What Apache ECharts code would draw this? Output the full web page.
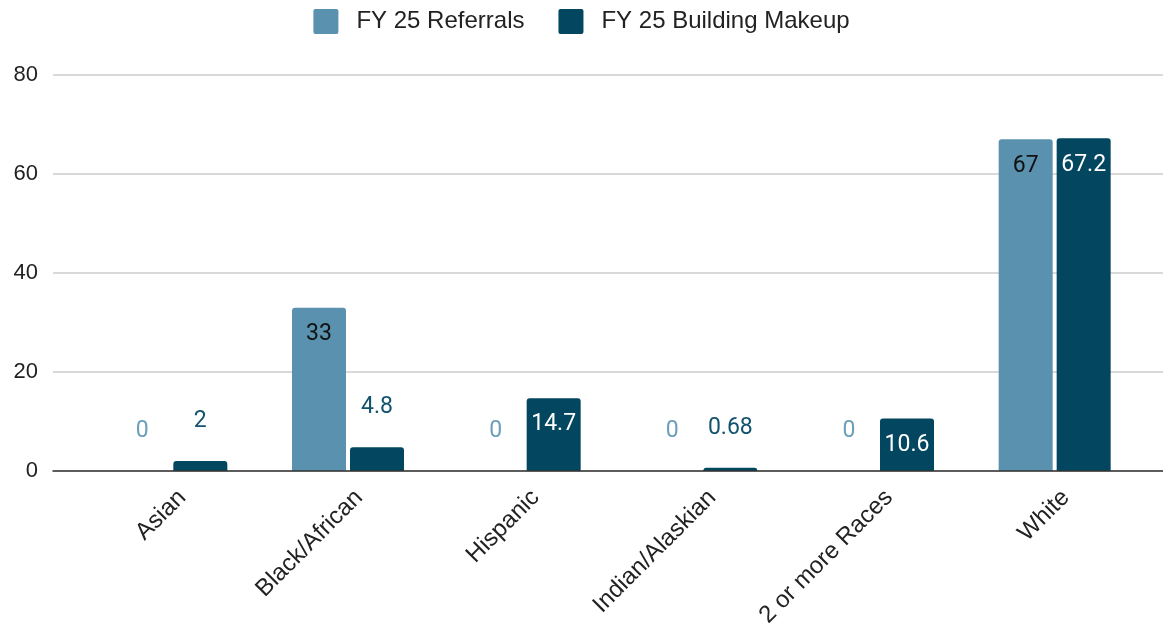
<!DOCTYPE html>
<html>
<head>
<meta charset="utf-8">
<script src="https://cdn.jsdelivr.net/npm/echarts@6/dist/echarts.min.js"></script>
<style>
  html, body { margin: 0; padding: 0; background: #fff; }
  #RaceChart { width: 1163px; height: 630px; }
</style>
</head>
<body>
<div id="RaceChart"></div>
<script>
// values
const categories = ['Asian', 'Black/African', 'Hispanic', 'Indian/Alaskian', '2 or more Races', 'White']
const referrals = [0, 33, 0, 0, 0, 67]
const buildingMakeup = [2, 4.8, 14.7, 0.68, 10.6, 67.2]
const yTicks = [0, 20, 40, 60, 80]

const lightBlue = '#5a91ae'
const darkBlue = '#02465f'

// tall bars get their number inside the top, short ones above in the bar colour
function withLabels (values, barColor, insideColor) {
  return values.map(function (v) {
    if (v >= 10) {
      return { value: v, label: { position: 'insideTop', distance: 15, color: insideColor } }
    }
    return { value: v, label: { position: 'top', distance: 28, color: barColor } }
  })
}

const chart = echarts.init(document.getElementById('RaceChart'))
chart.setOption({
  animation: false,
  backgroundColor: '#fff',
  legend: {
    top: 4,
    left: 'center',
    itemWidth: 25,
    itemHeight: 25,
    itemGap: 34,
    icon: 'path://M2,0 L23,0 Q25,0 25,2 L25,23 Q25,25 23,25 L2,25 Q0,25 0,23 L0,2 Q0,0 2,0 Z',
    data: ['FY 25 Referrals', 'FY 25 Building Makeup'],
    textStyle: {
      fontFamily: 'Liberation Sans',
      fontSize: 24,
      color: '#222',
      padding: [0, 0, 0, 13]
    }
  },
  grid: [
    // bars
    { left: 83, right: 20, top: 75, bottom: 159 },
    // gridlines, y labels and base line across the full width
    { left: 53, right: 0, top: 75, bottom: 159 },
    // category labels, nudged right like the original
    { left: 94, right: 9, top: 75, bottom: 159 }
  ],
  xAxis: [
    {
      type: 'category',
      gridIndex: 0,
      data: categories,
      show: false
    },
    {
      type: 'value',
      gridIndex: 1,
      min: 0,
      max: 1,
      axisLabel: { show: false },
      axisTick: { show: false },
      splitLine: { show: false },
      axisLine: { show: true, lineStyle: { color: '#333', width: 1.5 } },
      z: 5
    },
    {
      type: 'category',
      gridIndex: 2,
      data: categories,
      axisLine: { show: false },
      axisTick: { show: false },
      axisLabel: {
        rotate: 45,
        margin: 32,
        interval: 0,
        fontFamily: 'Liberation Sans',
        fontSize: 24,
        color: '#222'
      }
    }
  ],
  yAxis: [
    {
      type: 'value',
      gridIndex: 0,
      min: yTicks[0],
      max: yTicks[yTicks.length - 1],
      show: false
    },
    {
      type: 'value',
      gridIndex: 1,
      min: yTicks[0],
      max: yTicks[yTicks.length - 1],
      interval: 20,
      axisLine: { show: false },
      axisTick: { show: false },
      axisLabel: {
        margin: 15,
        fontFamily: 'Liberation Sans',
        fontSize: 22,
        color: '#222'
      },
      splitLine: { lineStyle: { color: '#cccccc', width: 1.5 } }
    },
    {
      type: 'value',
      gridIndex: 2,
      min: yTicks[0],
      max: yTicks[yTicks.length - 1],
      show: false
    }
  ],
  series: [
    {
      name: 'FY 25 Referrals',
      type: 'bar',
      xAxisIndex: 0,
      yAxisIndex: 0,
      barWidth: 54,
      barGap: '7.4%',
      itemStyle: { color: lightBlue, borderRadius: [3, 3, 0, 0] },
      label: { show: true, fontFamily: 'Roboto', fontSize: 23 },
      data: withLabels(referrals, '#6b9fba', '#111')
    },
    {
      name: 'FY 25 Building Makeup',
      type: 'bar',
      xAxisIndex: 0,
      yAxisIndex: 0,
      barWidth: 54,
      barGap: '7.4%',
      itemStyle: { color: darkBlue, borderRadius: [3, 3, 0, 0] },
      label: { show: true, fontFamily: 'Roboto', fontSize: 23 },
      data: withLabels(buildingMakeup, '#14536d', '#fff')
    }
  ]
})
</script>
</body>
</html>
